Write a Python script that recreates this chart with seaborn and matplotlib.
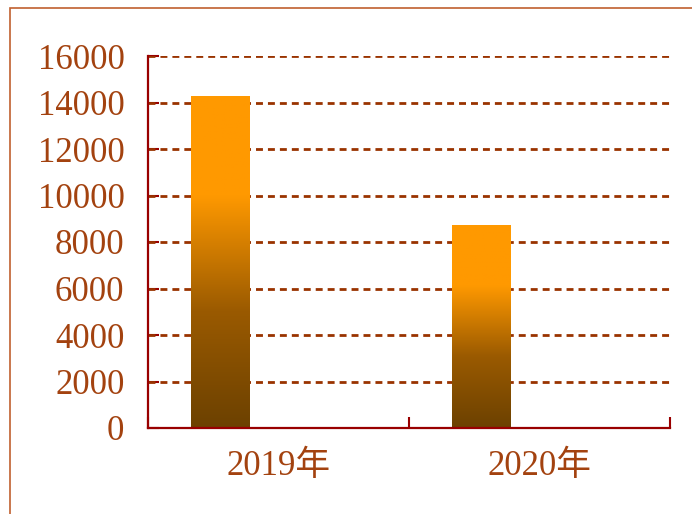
import numpy as np
import pandas as pd
import matplotlib
matplotlib.use("Agg")
import matplotlib.pyplot as plt
from matplotlib.colors import LinearSegmentedColormap
from matplotlib.patches import Rectangle
import seaborn as sns

# data
categories = ["2019年", "2020年"]
values = [14280, 8750]
yticks = [0, 2000, 4000, 6000, 8000, 10000, 12000, 14000, 16000]

df = pd.DataFrame({"year": categories, "value": values})

sns.set_style("white")
plt.rcParams['font.family'] = ['Liberation Serif', 'Noto Sans CJK SC']

text_c = '#A3420F'
grid_c = '#993300'
spine_c = '#990000'

fig = plt.figure(figsize=(6.92, 5.14), dpi=100)
ax = fig.add_axes([148/692, 86/514, 522/692, 372/514])

sns.barplot(data=df, x="year", y="value", width=0.225, color='#FF9900', ax=ax)

# gradient fill for bars
cmap = LinearSegmentedColormap.from_list(
    "bar", [(0, '#6C4100'), (0.35, '#9A5A00'), (0.7, '#FF9900'), (1, '#FF9900')])
grad = np.linspace(0, 1, 256).reshape(-1, 1)
for p in ax.patches:
    x0, y0 = p.get_x(), p.get_y()
    w, h = p.get_width(), p.get_height()
    p.set_facecolor('none')
    p.set_edgecolor('none')
    im = ax.imshow(grad, cmap=cmap, origin='lower', aspect='auto',
                   extent=[x0, x0 + w, y0, y0 + h], zorder=2)
    im.set_clip_path(p)

off = 0.278
ax.set_xlim(-off, 1.722)
ax.set_ylim(0, 16000)
ax.set_xlabel("")
ax.set_ylabel("")

ax.set_yticks(yticks)
ax.set_yticklabels([str(v) for v in yticks])
for v in yticks[1:]:
    ax.axhline(v, color=grid_c, lw=2, ls=(0, (2.5, 1.8)), zorder=1)

ax.set_xticks([-off, 1 - off, 2 - off])
ax.set_xticklabels([])
ax.set_xticks([0.5 - off, 1.5 - off], minor=True)
ax.set_xticklabels(categories, minor=True)

ax.tick_params(axis='x', which='major', bottom=True, direction='in', length=8,
               width=1.5, color=spine_c)
ax.tick_params(axis='x', which='minor', bottom=True, length=0, pad=16,
               labelsize=25, labelcolor=text_c)
ax.tick_params(axis='y', left=True, direction='in', length=8, width=1.5, color=spine_c,
               pad=17, labelsize=25, labelcolor=text_c)

sns.despine(ax=ax)
for s in ['left', 'bottom']:
    ax.spines[s].set_color(spine_c)
    ax.spines[s].set_linewidth(1.6)
    ax.spines[s].set_zorder(3)

# outer border (partly cut off on the right and bottom)
fig.patches.append(Rectangle((10/692, -0.1), 1.2, 0.1 + (514 - 8)/514,
                             transform=fig.transFigure, fill=False,
                             edgecolor='#C0602F', lw=1.2))

fig.savefig("out.png", dpi=100)
